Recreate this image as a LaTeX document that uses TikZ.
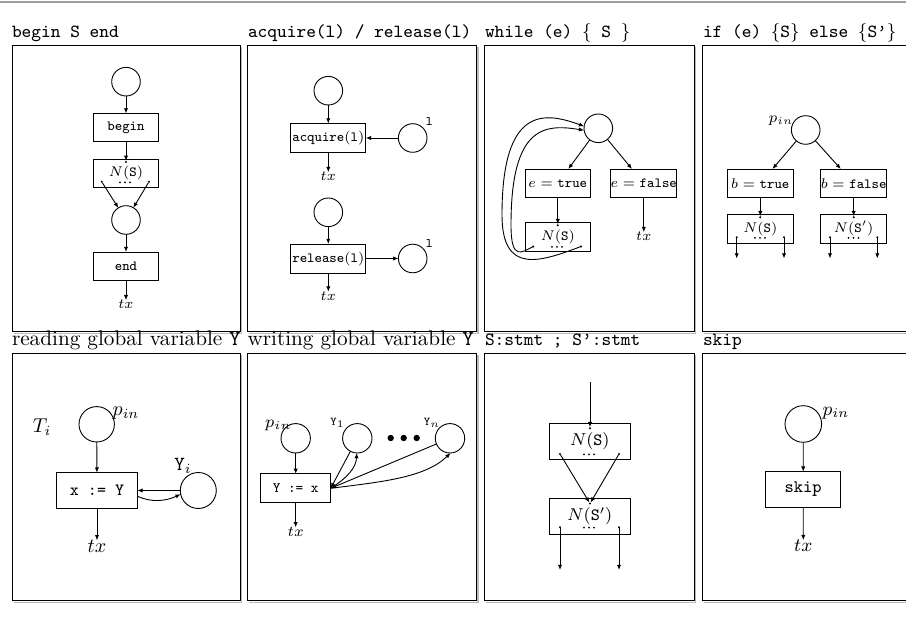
\RequirePackage{fix-cm}
\documentclass[tikz,border=0pt]{standalone}
\usepackage{fontspec}
\usetikzlibrary{arrows.meta}

\newcommand{\fsz}[1]{\fontsize{#1}{#1}\selectfont}
% three small dots standing for the omitted exits of a sub-net
\newcommand{\exitdots}[2]{\foreach \dd in {-5,0,5} {\fill (#1+\dd,#2) circle (0.5pt);}}

\tikzset{
  every node/.style={inner sep=0pt, outer sep=0pt},
  placenode/.style={draw, circle, line width=0.45pt},
  tbox/.style={draw, rectangle, line width=0.45pt},
  portdot/.style={circle, fill, minimum size=1.1pt},
  flowarrow/.style={-{Latex[length=2.6pt,width=2.1pt]}, line width=0.45pt},
  panelframe/.style={draw, line width=0.5pt},
  panelshade/.style={draw=gray!55, line width=0.6pt},
}

\begin{document}
\begin{tikzpicture}[x=0.5pt, y=-0.5pt]
\path[use as bounding box, fill=white] (0,0) rectangle (906,619);

% rule across the top
\draw[gray!75, line width=1pt] (0,2) -- (906,2);

% panel frames
\foreach \xa/\ya/\xb/\yb in {12/46/240/331.7, 247.8/46/476.5/331.7, 484.5/46/694/331.7, 702.5/46/930/331.7,
                             12/354/240/601, 247.8/354/476.5/601, 484.5/354/694/601, 702.5/354/930/601} {
  \draw[panelshade] (\xa+1.5,\yb+1.5) -- (\xb+1.5,\yb+1.5) -- (\xb+1.5,\ya+1.5);
  \draw[panelframe] (\xa,\ya) rectangle (\xb,\yb);
}

% panel titles
\begin{scope}[every node/.append style={anchor=base west}]
\node[font=\fsz{9.25}\ttfamily] (ttl1) at (12,37.5) {begin S end};
\node[font=\fsz{9.25}\ttfamily] (ttl2) at (248,37.5) {acquire(l) / release(l)};
\node[font=\fsz{9.25}] (ttl3) at (485,37.5) {\texttt{while (e)\ }$\{$\texttt{\ S\ }$\}$};
\node[font=\fsz{9.25}] (ttl4) at (703,37.5) {\texttt{if (e)\ }$\{$\texttt{S}$\}$\texttt{\ else\ }$\{$\texttt{S’}$\}$};
\node[font=\fsz{10.6}] (ttl5) at (12,345.5) {reading global variable \texttt{Y}};
\node[font=\fsz{10.6}] (ttl6) at (247.5,345.5) {writing global variable \texttt{Y}};
\node[font=\fsz{9.25}\ttfamily] (ttl7) at (485,345.5) {S:stmt ; S’:stmt};
\node[font=\fsz{9.25}\ttfamily] (ttl8) at (703,345.5) {skip};
\end{scope}

% ---------- begin S end ----------
\begin{scope}[font=\fsz{7}]
\node[placenode, minimum size=14.3pt] (a0) at (126,81.7) {};
\node[tbox, minimum width=32.5pt, minimum height=14pt] (abegin) at (126,127.5) {\texttt{begin}};
\node[tbox, minimum width=32.5pt, minimum height=14pt] (aS) at (126,173.3) {$N(\mathtt{S})$};
\node[portdot] (aSin) at (126,162) {};
\node[portdot] (aSl) at (101.7,181.7) {};
\node[portdot] (aSr) at (149,181.7) {};
\exitdots{125}{182.5}
\node[placenode, minimum size=14.3pt] (a1) at (126,220) {};
\node[tbox, minimum width=32.5pt, minimum height=14pt] (aend) at (126,266) {\texttt{end}};
\node (atx) at (126,304.5) {$tx$};
\draw[flowarrow] (a0) -- (abegin);
\draw[flowarrow] (abegin) -- (aSin);
\draw[flowarrow] (aSl) -- (a1);
\draw[flowarrow] (aSr) -- (a1);
\draw[flowarrow] (a1) -- (aend);
\draw[flowarrow] (aend) -- (atx);
\end{scope}

% ---------- acquire(l) / release(l) ----------
\begin{scope}[font=\fsz{7}]
\node[placenode, minimum size=14.3pt] (b0) at (328.3,90.7) {};
\node[tbox, minimum width=37.5pt, minimum height=14.5pt] (bacq) at (328.3,138) {\texttt{acquire}(\texttt{l})};
\node[placenode, minimum size=14.3pt] (bl1) at (412.7,138) {};
\node[font=\fsz{6.5}\ttfamily] (bl1lab) at (429.3,122) {l};
\node (btx1) at (328.3,176.5) {$tx$};
\draw[flowarrow] (b0) -- (bacq);
\draw[flowarrow] (bl1) -- (bacq);
\draw[flowarrow] (bacq) -- (btx1);

\node[placenode, minimum size=14.3pt] (b1) at (328.3,212.3) {};
\node[tbox, minimum width=37.5pt, minimum height=14.5pt] (brel) at (328.3,258.5) {\texttt{release}(\texttt{l})};
\node[placenode, minimum size=14.3pt] (bl2) at (412.7,258.5) {};
\node[font=\fsz{6.5}\ttfamily] (bl2lab) at (429.3,243.3) {l};
\node (btx2) at (328.3,296) {$tx$};
\draw[flowarrow] (b1) -- (brel);
\draw[flowarrow] (brel) -- (bl2);
\draw[flowarrow] (brel) -- (btx2);
\end{scope}

% ---------- while (e) { S } ----------
\begin{scope}[font=\fsz{7}]
\node[placenode, minimum size=14.3pt] (c0) at (598.3,128.3) {};
\node[tbox, minimum width=32.8pt, minimum height=14.3pt] (ctrue) at (557.8,183.3) {$e=\mathtt{true}$};
\node[tbox, minimum width=32.8pt, minimum height=14.3pt] (cfalse) at (643.8,183.3) {$e=\mathtt{false}$};
\node[tbox, minimum width=32.8pt, minimum height=14.3pt] (cS) at (557.8,236.7) {$N(\mathtt{S})$};
\node[portdot] (cSin) at (557.8,225.3) {};
\node[portdot] (cSl) at (533.3,246.5) {};
\node[portdot] (cSr) at (581,246.5) {};
\exitdots{557}{247}
\node (ctx) at (643.8,236.5) {$tx$};
\draw[flowarrow] (c0) -- (ctrue);
\draw[flowarrow] (c0) -- (cfalse);
\draw[flowarrow] (ctrue) -- (cSin);
\draw[flowarrow] (cfalse) -- (ctx);
\draw[flowarrow] (cSr.center) .. controls (540,262) and (502,275) .. (502,215)
                 .. controls (502,105) and (545,112) .. (c0.172);
\draw[flowarrow] (cSl.center) .. controls (522,252) and (511,262) .. (511,225)
                 .. controls (511,125) and (545,124) .. (c0.188);
\end{scope}

% ---------- if (e) {S} else {S'} ----------
\begin{scope}[font=\fsz{7}]
\node[placenode, minimum size=14.3pt] (d0) at (805.7,130) {};
\node[font=\fsz{7.5}] (dpin) at (781,121) {$p_{in}$};
\node[tbox, minimum width=33pt, minimum height=14.3pt] (dtrue) at (760.3,183.3) {$b=\mathtt{true}$};
\node[tbox, minimum width=33pt, minimum height=14.3pt] (dfalse) at (853.7,183.3) {$b=\mathtt{false}$};
\node[tbox, minimum width=33pt, minimum height=14.5pt] (dS) at (760.3,228.8) {$N(\mathtt{S})$};
\node[tbox, minimum width=33pt, minimum height=14.5pt] (dS2) at (853.7,228.8) {$N(\mathtt{S}')$};
\node[portdot] (dSin) at (760.3,217.3) {};
\node[portdot] (dS2in) at (853.7,217.3) {};
\node[portdot] (dSl) at (736.7,237.3) {};
\node[portdot] (dSr) at (784,237.3) {};
\node[portdot] (dS2l) at (830,237.3) {};
\node[portdot] (dS2r) at (877.3,237.3) {};
\exitdots{760}{237.8}
\exitdots{853.5}{237.8}
\coordinate (dout1) at (736.7,258.5);
\coordinate (dout2) at (784,258.5);
\coordinate (dout3) at (830,258.5);
\coordinate (dout4) at (877.3,258.5);
\draw[flowarrow] (d0) -- (dtrue);
\draw[flowarrow] (d0) -- (dfalse);
\draw[flowarrow] (dtrue) -- (dSin);
\draw[flowarrow] (dfalse) -- (dS2in);
\draw[flowarrow] (dSl) -- (dout1);
\draw[flowarrow] (dSr) -- (dout2);
\draw[flowarrow] (dS2l) -- (dout3);
\draw[flowarrow] (dS2r) -- (dout4);
\end{scope}

% ---------- reading global variable Y ----------
\begin{scope}[font=\fsz{10}]
\node (eT) at (42,427) {$T_i$};
\node[placenode, minimum size=17.7pt] (e0) at (96.7,424.3) {};
\node (epin) at (126,413) {$p_{in}$};
\node[tbox, minimum width=40.3pt, minimum height=17.8pt, font=\fsz{8.6}\ttfamily] (eread) at (97,490.5) {x := Y};
\node[placenode, minimum size=18pt] (eY) at (198.3,490.5) {};
\node (eYlab) at (183,466) {$\mathtt{Y}_i$};
\node (etx) at (97,546.5) {$tx$};
\draw[flowarrow] (e0) -- (eread);
\draw[flowarrow] (eY) -- (eread);
\draw[flowarrow] (eread.-8) .. controls (152,503) and (166,501) .. (eY.192);
\draw[flowarrow] (eread) -- (etx);
\end{scope}

% ---------- writing global variable Y ----------
\begin{scope}[font=\fsz{7.5}]
\node[placenode, minimum size=14.7pt] (f0) at (295.7,438.3) {};
\node[font=\fsz{8.5}] (fpin) at (278.5,425) {$p_{in}$};
\node[tbox, minimum width=35pt, minimum height=14.4pt, font=\fsz{7.2}\ttfamily] (fwrite) at (295.7,488.3) {Y := x};
\node[placenode, minimum size=14.7pt] (fY1) at (357.3,438.3) {};
\node[font=\fsz{6}] (fY1lab) at (337.5,423) {$\mathtt{Y}_1$};
\node[placenode, minimum size=14.7pt] (fYn) at (450,438.3) {};
\node[font=\fsz{6}] (fYnlab) at (432,423) {$\mathtt{Y}_n$};
\foreach \dx in {390.7,403.7,416.7} {\fill (\dx,438) circle (1.6pt);}
\node (ftx) at (295.7,532) {$tx$};
\draw[flowarrow] (f0) -- (fwrite);
\draw[flowarrow] (fY1) -- (fwrite.east);
\draw[flowarrow] (fwrite.east) .. controls (347,478) and (356,468) .. (fY1.268);
\draw[flowarrow] (fYn) -- (fwrite.east);
\draw[flowarrow] (fwrite.east) .. controls (380,482) and (425,478) .. (fYn.272);
\draw[flowarrow] (fwrite) -- (ftx);
\end{scope}

% ---------- S:stmt ; S':stmt ----------
\begin{scope}[font=\fsz{8.6}]
\coordinate (gin) at (590,381.7);
\node[tbox, minimum width=40.8pt, minimum height=18pt] (gS) at (589.8,441.3) {$N(\mathtt{S})$};
\node[portdot] (gSin) at (590,428.3) {};
\node[portdot] (gSl) at (560,454) {};
\node[portdot] (gSr) at (619,454) {};
\exitdots{589}{454.3}
\node[tbox, minimum width=40.8pt, minimum height=18pt] (gS2) at (589.8,516.3) {$N(\mathtt{S}')$};
\node[portdot] (gS2in) at (590,503.5) {};
\node[portdot] (gS2l) at (560,527.3) {};
\node[portdot] (gS2r) at (619,527.3) {};
\exitdots{589}{527.6}
\coordinate (gout1) at (560,570);
\coordinate (gout2) at (619,570);
\draw[flowarrow] (gin) -- (gSin);
\draw[flowarrow] (gSl) -- (gS2in);
\draw[flowarrow] (gSr) -- (gS2in);
\draw[flowarrow] (gS2l) -- (gout1);
\draw[flowarrow] (gS2r) -- (gout2);
\end{scope}

% ---------- skip ----------
\begin{scope}[font=\fsz{9.5}]
\node[placenode, minimum size=18.3pt] (h0) at (803.3,424) {};
\node (hpin) at (836,412.8) {$p_{in}$};
\node[tbox, minimum width=37.5pt, minimum height=17.8pt, font=\fsz{8.8}\ttfamily] (hskip) at (803.2,489.5) {skip};
\node (htx) at (803.3,546) {$tx$};
\draw[flowarrow] (h0) -- (hskip);
\draw[flowarrow] (hskip) -- (htx);
\end{scope}

\end{tikzpicture}
\end{document}
